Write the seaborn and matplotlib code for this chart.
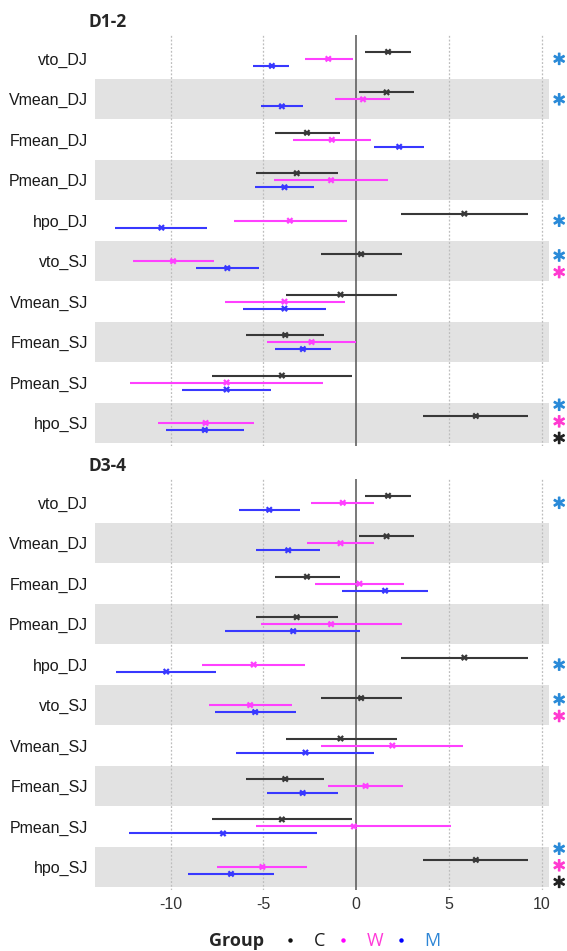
import numpy as np
import pandas as pd
import matplotlib
matplotlib.use("Agg")
import matplotlib.pyplot as plt
import matplotlib.transforms as mtransforms
import matplotlib.patheffects as pe
from matplotlib.lines import Line2D
import seaborn as sns

# ---------------- data ----------------
variables = ["vto_DJ", "Vmean_DJ", "Fmean_DJ", "Pmean_DJ", "hpo_DJ",
             "vto_SJ", "Vmean_SJ", "Fmean_SJ", "Pmean_SJ", "hpo_SJ"]
panels = ["D1-2", "D3-4"]
groups = ["C", "W", "M"]
xticks = [-10, -5, 0, 5, 10]

C_mean = [1.72, 1.64, -2.65, -3.20, 5.83, 0.27, -0.84, -3.82, -4.00, 6.45]
C_lo = [0.47, 0.16, -4.39, -5.42, 2.42, -1.89, -3.80, -5.91, -7.76, 3.63]
C_hi = [2.98, 3.12, -0.88, -0.96, 9.26, 2.46, 2.18, -1.73, -0.23, 9.28]

W12_mean = [-1.50, 0.37, -1.31, -1.35, -3.57, -9.86, -3.86, -2.40, -6.98, -8.11]
W12_lo = [-2.77, -1.13, -3.41, -4.41, -6.57, -12.00, -7.08, -4.81, -12.16, -10.66]
W12_hi = [-0.19, 1.85, 0.82, 1.72, -0.51, -7.68, -0.62, 0.00, -1.81, -5.52]
M12_mean = [-4.54, -4.00, 2.32, -3.86, -10.49, -6.94, -3.86, -2.87, -6.98, -8.15]
M12_lo = [-5.54, -5.15, 0.96, -5.44, -12.98, -8.62, -6.08, -4.39, -9.38, -10.27]
M12_hi = [-3.59, -2.85, 3.68, -2.28, -8.01, -5.22, -1.64, -1.35, -4.56, -6.04]

W34_mean = [-0.72, -0.84, 0.18, -1.35, -5.52, -5.71, 1.95, 0.51, -0.12, -5.05]
W34_lo = [-2.44, -2.63, -2.20, -5.13, -8.30, -7.95, -1.89, -1.52, -5.38, -7.47]
W34_hi = [0.97, 0.94, 2.59, 2.46, -2.77, -3.45, 5.75, 2.50, 5.09, -2.65]
M34_mean = [-4.68, -3.66, 1.56, -3.39, -10.23, -5.44, -2.73, -2.88, -7.17, -6.74]
M34_lo = [-6.30, -5.40, -0.76, -7.06, -12.92, -7.60, -6.45, -4.81, -12.22, -9.06]
M34_hi = [-3.02, -1.95, 3.86, 0.23, -7.56, -3.26, 0.94, -0.97, -2.12, -4.42]

# significance stars: panel -> {variable: [groups]}
stars = {
    "D1-2": {"vto_DJ": ["M"], "Vmean_DJ": ["M"], "hpo_DJ": ["M"],
             "vto_SJ": ["M", "W"], "hpo_SJ": ["M", "W", "C"]},
    "D3-4": {"vto_DJ": ["M"], "hpo_DJ": ["M"],
             "vto_SJ": ["M", "W"], "hpo_SJ": ["M", "W", "C"]},
}

panel_data = {
    "D1-2": {"C": (C_mean, C_lo, C_hi), "W": (W12_mean, W12_lo, W12_hi),
             "M": (M12_mean, M12_lo, M12_hi)},
    "D3-4": {"C": (C_mean, C_lo, C_hi), "W": (W34_mean, W34_lo, W34_hi),
             "M": (M34_mean, M34_lo, M34_hi)},
}

rows = []
for p in panels:
    for g in groups:
        m, lo, hi = panel_data[p][g]
        for v, a, b, c in zip(variables, m, lo, hi):
            rows.append(dict(panel=p, group=g, variable=v, mean=a, lo=b, hi=c))
df = pd.DataFrame(rows)

# ---------------- style ----------------
sns.set_theme(style="white")
plt.rcParams["font.family"] = ["Liberation Sans", "DejaVu Sans"]
plt.rcParams["mathtext.fontset"] = "dejavusans"

line_colors = {"C": "#383838", "W": "#ff40ff", "M": "#3838ff"}
star_colors = {"C": "#222222", "W": "#ff3ad0", "M": "#2a8ad8"}
legend_text_colors = {"C": "#1a1a1a", "W": "#ff3ad8", "M": "#2e86d6"}
offsets = {"C": -0.173, "W": 0.0, "M": 0.173}

fig = plt.figure(figsize=(5.67, 9.51), dpi=100)
ax_rects = [[0.1675, 0.5314, 0.8007, 0.4318], [0.1675, 0.0646, 0.8007, 0.4318]]
title_y = [1 - 22 / 951, 1 - 466 / 951]

ypos = {v: i for i, v in enumerate(variables)}
star_base = {1: 0.03, 2: -0.11, 3: -0.42}
star_step = 0.41

for k, p in enumerate(panels):
    ax = fig.add_axes(ax_rects[k])
    sub = df[df.panel == p].copy()
    sub["y"] = sub["variable"].map(ypos) + sub["group"].map(offsets)

    # alternating bands
    for i, v in enumerate(variables):
        if i % 2 == 1:
            ax.axhspan(i - 0.49, i + 0.49, color="#e2e2e2", zorder=0, lw=0)
    for xv in xticks:
        if xv != 0:
            ax.axvline(xv, color="#bdbdbd", lw=0.9, ls=(0, (1.5, 1.5)), zorder=1)
    ax.axvline(0, color="#555555", lw=1.1, zorder=1)

    for g in groups:
        s = sub[sub.group == g]
        ax.hlines(s["y"], s["lo"], s["hi"], color=line_colors[g], lw=1.5, zorder=2)
    sns.scatterplot(data=sub, x="mean", y="y", hue="group", palette=line_colors,
                    marker="x", s=14, linewidth=1.6, legend=False, ax=ax, zorder=3)

    ax.set_xlim(-14.07, 10.39)
    ax.set_ylim(9.56, -0.59)
    ax.set_yticks(range(len(variables)))
    ax.set_yticklabels(variables, fontsize=11.5, color="#1a1a1a")
    ax.set_xticks(xticks)
    if k == 1:
        ax.set_xticklabels([str(x) for x in xticks], fontsize=11.5, color="#333333")
    else:
        ax.set_xticklabels([])
    ax.tick_params(axis="both", length=0, pad=5)
    ax.set_xlabel("")
    ax.set_ylabel("")
    for sp in ax.spines.values():
        sp.set_visible(False)

    fig.text(88 / 567, title_y[k], p, fontsize=12.5, fontweight="bold",
             family=["Open Sans", "DejaVu Sans"], va="center", ha="left")

    trans = mtransforms.blended_transform_factory(fig.transFigure, ax.transData)
    for v, glist in stars[p].items():
        n = len(glist)
        for j, g in enumerate(glist):
            yv = ypos[v] + star_base[n] + j * star_step
            ax.text(559 / 567, yv, r"$\ast$", transform=trans, color=star_colors[g],
                    fontsize=13, ha="center", va="center", clip_on=False,
                    path_effects=[pe.withStroke(linewidth=0.9, foreground=star_colors[g])])

# legend
fig.text(236 / 567, 1 - 941 / 951, "Group", fontsize=13, fontweight="bold",
         family=["Open Sans", "DejaVu Sans"], ha="center", va="center")
handles = [Line2D([], [], ls="none", marker="o", markersize=2.2,
                  color={"C": "#111111", "W": "#ff00ff", "M": "#0000ff"}[g]) for g in groups]
leg = fig.legend(handles, groups, loc="center left", bbox_to_anchor=(283 / 567, 1 - 941 / 951),
                 ncol=3, frameon=False, handlelength=0.8, handletextpad=0.9,
                 columnspacing=0.6, borderaxespad=0, borderpad=0,
                 prop={"family": ["Open Sans", "DejaVu Sans"], "size": 13})
for t, g in zip(leg.get_texts(), groups):
    t.set_color(legend_text_colors[g])

fig.savefig("out.png", dpi=100)
